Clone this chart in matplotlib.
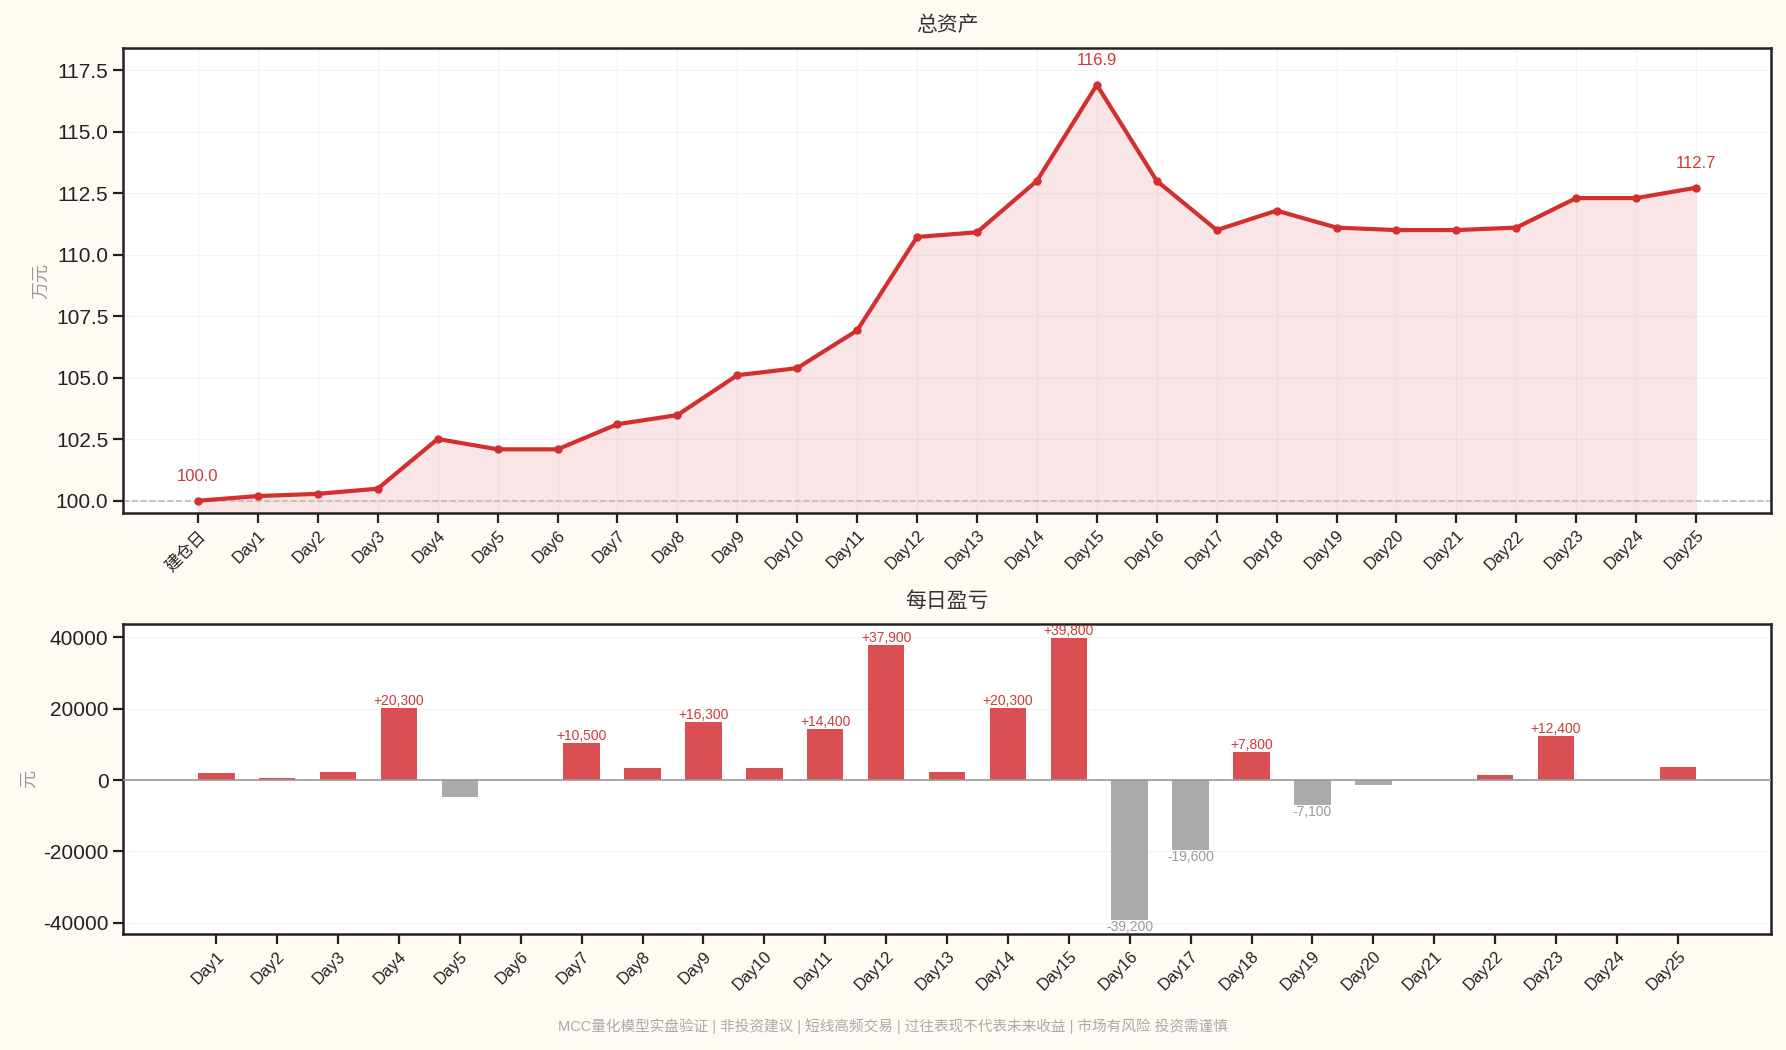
import matplotlib
matplotlib.use("Agg")
import matplotlib.pyplot as plt
import numpy as np

plt.rcParams['font.family'] = ['Liberation Sans', 'Noto Sans CJK SC', 'DejaVu Sans']
plt.rcParams['axes.unicode_minus'] = False

labels_top = ['建仓日'] + [f'Day{i}' for i in range(1, 26)]
total_assets = [100.0, 100.19, 100.28, 100.49, 102.51, 102.09, 102.09, 103.11, 103.48,
                105.1, 105.39, 106.92, 110.72, 110.91, 113.0, 116.9, 113.0, 111.0,
                111.79, 111.1, 111.0, 111.0, 111.1, 112.3, 112.3, 112.72]
labels_bottom = [f'Day{i}' for i in range(1, 26)]
daily_pnl = [1900, 500, 2400, 20300, -4800, 0, 10500, 3300, 16300, 3300, 14400, 37900,
             2400, 20300, 39800, -39200, -19600, 7800, -7100, -1400, 0, 1300, 12400, 0, 3600]
footer = 'MCC量化模型实盘验证 | 非投资建议 | 短线高频交易 | 过往表现不代表未来收益 | 市场有风险 投资需谨慎'

RED = '#d32f2f'
TXT_RED = '#d0393c'
BAR_RED = '#d94f52'
GRAY = '#aaaaaa'
BG = '#fffaf3'

fig = plt.figure(figsize=(17.86, 10.5), dpi=100, facecolor=BG)
ax1 = fig.add_axes([0.0689, 0.5114, 0.9227, 0.4429])
ax2 = fig.add_axes([0.0689, 0.1105, 0.9227, 0.2952])

# --- Top chart ---
x1 = np.arange(len(total_assets))
ymin = min(total_assets) - 0.5
ymax = max(total_assets) + 1.5
ax1.fill_between(x1, total_assets, ymin, color=RED, alpha=0.12, linewidth=0)
ax1.plot(x1, total_assets, color=RED, linewidth=3, marker='o', markersize=5, zorder=3)
ax1.axhline(100, color='#bbbbbb', linestyle='--', linewidth=1.2, zorder=1)
ax1.set_ylim(ymin, ymax)
ax1.set_xticks(x1)
ax1.set_xticklabels(labels_top, rotation=45, ha='right', rotation_mode='anchor', fontsize=12)
yt = [100, 102.5, 105, 107.5, 110, 112.5, 115, 117.5]
ax1.set_yticks(yt)
ax1.set_yticklabels([f'{v:.1f}' for v in yt])
ax1.tick_params(axis='y', labelsize=15)
ax1.grid(True, color='#f3f3f3', linewidth=0.8)
ax1.set_axisbelow(True)
ax1.set_title('总资产', fontsize=15, color='#333333', pad=12)
ax1.set_ylabel('万元', fontsize=13, color='#999999')
imax = int(np.argmax(total_assets))
for i in sorted({0, imax, len(total_assets) - 1}):
    ax1.annotate(f'{total_assets[i]:.1f}', (x1[i], total_assets[i]), xytext=(0, 12),
                 textcoords='offset points', ha='center', va='bottom', fontsize=12, color=TXT_RED)

# --- Bottom chart ---
x2 = np.arange(1, len(daily_pnl) + 1)
colors = [BAR_RED if v > 0 else GRAY for v in daily_pnl]
ax2.bar(x2, daily_pnl, width=0.6, color=colors, zorder=2)
ax2.axhline(0, color='#999999', linewidth=1.2, zorder=3)
ax2.set_xticks(x2)
ax2.set_xticklabels(labels_bottom, rotation=45, ha='right', rotation_mode='anchor', fontsize=12)
ax2.set_yticks([-40000, -20000, 0, 20000, 40000])
ax2.tick_params(axis='y', labelsize=15)
ax2.grid(True, axis='y', color='#f3f3f3', linewidth=0.8)
ax2.set_axisbelow(True)
ax2.set_title('每日盈亏', fontsize=15, color='#333333', pad=12)
ax2.set_ylabel('元', fontsize=13, color='#999999')
for xi, v in zip(x2, daily_pnl):
    if abs(v) >= 5000:
        if v > 0:
            ax2.text(xi, v, f'+{v:,}', ha='center', va='bottom', fontsize=10, color=TXT_RED)
        else:
            ax2.text(xi, v, f'{v:,}', ha='center', va='top', fontsize=10, color='#999999')

for ax in (ax1, ax2):
    ax.set_facecolor('white')
    for s in ax.spines.values():
        s.set_linewidth(1.8)
        s.set_color('#222222')
    ax.tick_params(axis='both', direction='out', length=7, width=1.6, colors='#222222')

fig.text(0.5, 0.023, footer, ha='center', va='center', fontsize=10.5, color='#aaaaaa')

fig.savefig('out.png', dpi=100, facecolor=BG)
